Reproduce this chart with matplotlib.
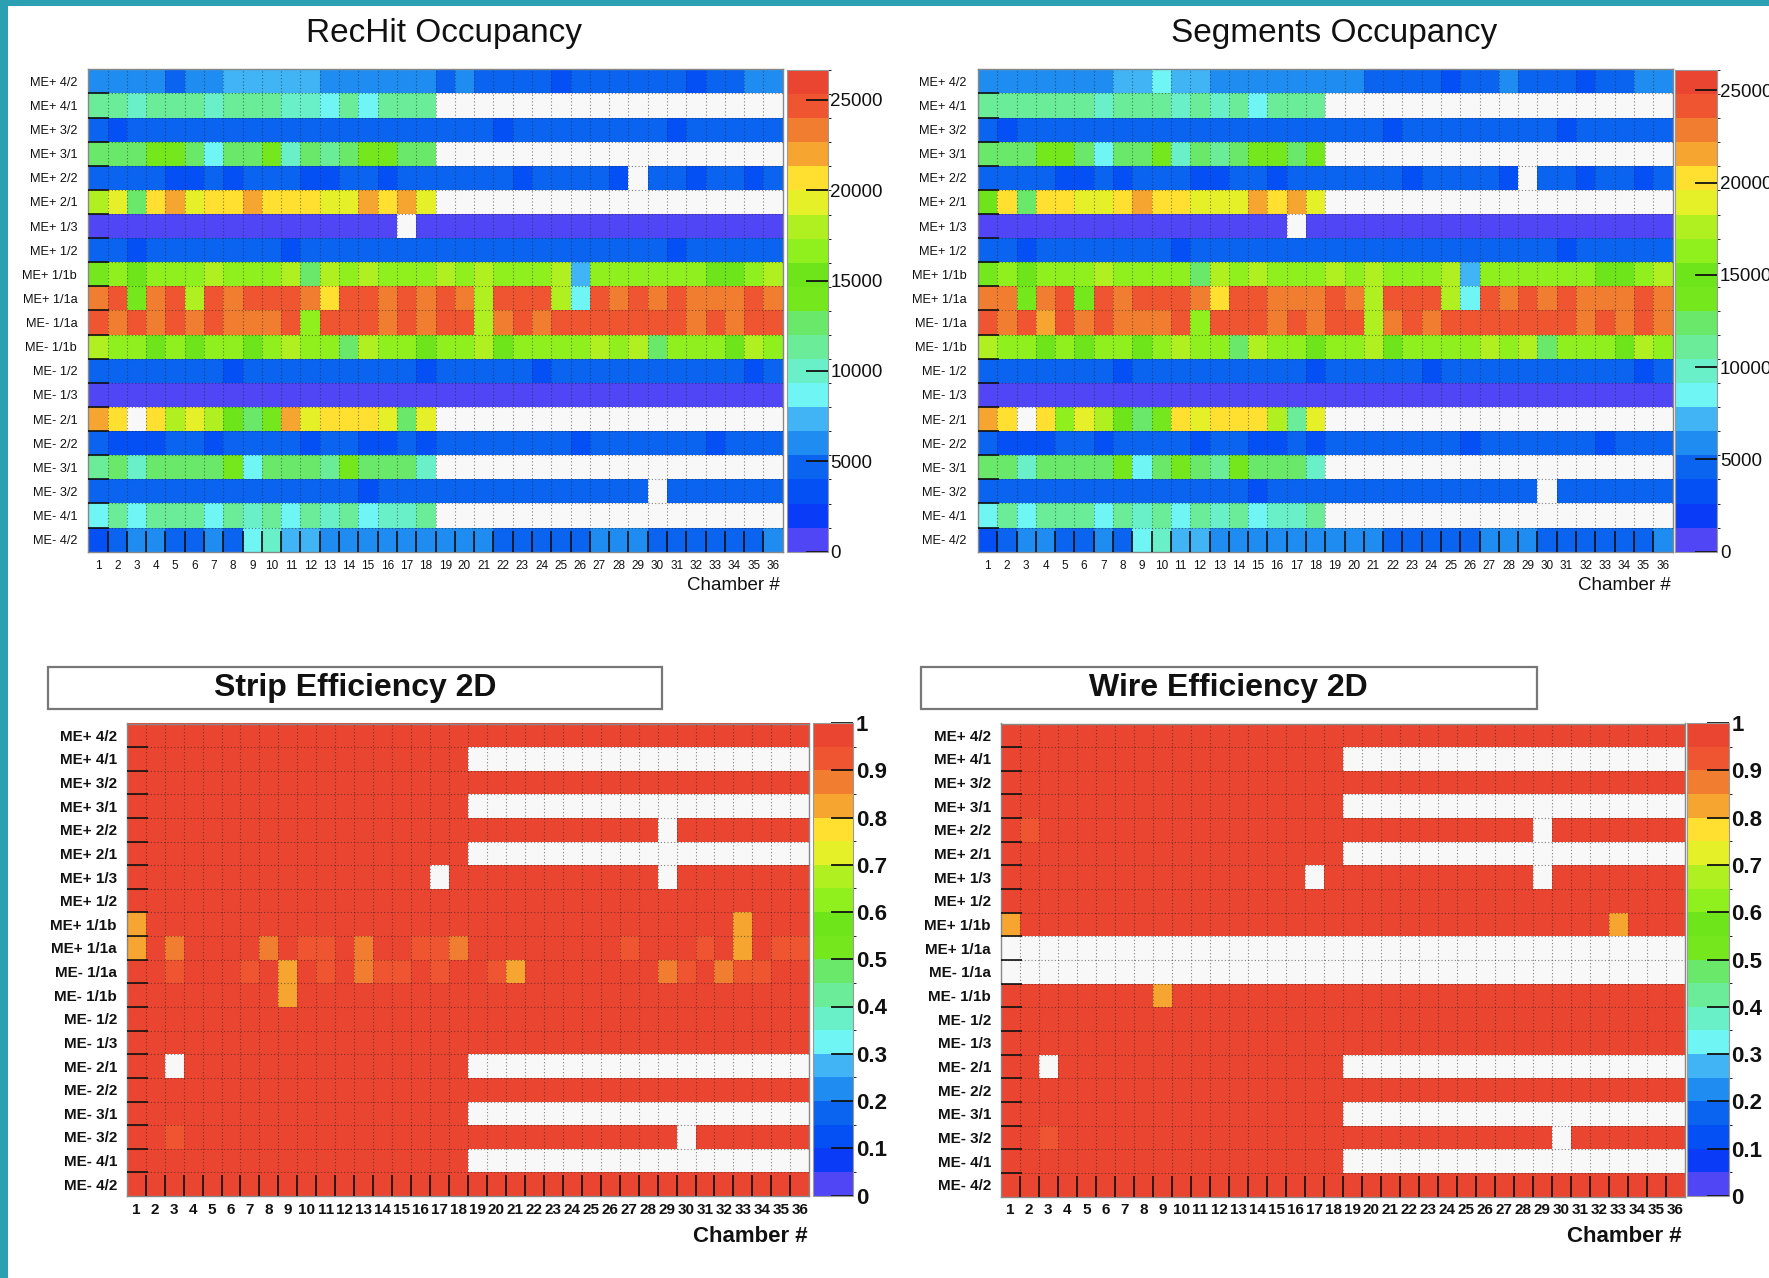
import numpy as np
import matplotlib
matplotlib.use("Agg")
import matplotlib.pyplot as plt
from matplotlib.colors import ListedColormap, BoundaryNorm
from matplotlib.patches import Rectangle

plt.rcParams['font.family'] = ['Liberation Sans', 'DejaVu Sans']

# ---- data ----
# each cell is written as the colour level it shows (0..j = 20 palette steps), '.' = empty bin
CHAMBERS = list(range(1, 37))
ROW_LABELS = ["ME+ 4/2", "ME+ 4/1", "ME+ 3/2", "ME+ 3/1", "ME+ 2/2", "ME+ 2/1",
              "ME+ 1/3", "ME+ 1/2", "ME+ 1/1b", "ME+ 1/1a", "ME- 1/1a", "ME- 1/1b",
              "ME- 1/2", "ME- 1/3", "ME- 2/1", "ME- 2/2", "ME- 3/1", "ME- 3/2",
              "ME- 4/1", "ME- 4/2"]
LEVELS = "0123456789abcdefghij"

RECHIT_MAX = 26650
RECHIT_ROWS = [
    "444434455555444444" "343333233333323344",
    "887888788877686888" "..................",
    "323333333333333333" "333233333333233333",
    "999aa9699a7989aa99" "..................",
    "333322323332233233" "3333233332.3323323",
    "de9fgeffgfffeegfge" "..................",
    "0000000000000000.0" "000000000000000000",
    "332333333323333333" "333333333333233333",
    "acbcccdcccd9dcdccc" "dcdcccd5ccccccbbcd",
    "hiahidihiiihfiihih" "ihdiiid6ihihihhhih",
    "ihihihihhhiciiihih" "iidhihiiiiiiihihii",
    "dccbcbccbcdcc9dccb" "ccdbccccdcd9cccbdc",
    "333333323333333332" "333332333333333323",
    "000000000000000000" "000000000000000000",
    "gf.fdedb9agefffe9e" "..................",
    "322233233332332232" "333333323333332333",
    "8979999a69998a9997" "..................",
    "333333333333332333" "33333333333.333333",
    "686888687868786778" "..................",
    "234433436755444444" "444333334443333334",
]

SEGMENT_MAX = 26100
SEGMENT_ROWS = [
    "444444455655444444" "443333233433323344",
    "888888788878786888" "..................",
    "323333333333333333" "333233333333233333",
    "999aa9699a7989aa9a" "..................",
    "333322323332233233" "3333233332.3323323",
    "bf9ffeefgffeeegfge" "..................",
    "0000000000000000.0" "000000000000000000",
    "332333333323333333" "333333333333233333",
    "acbcccdcccc9dcdccc" "dcdcccd5ccccccbbcd",
    "hhahiaihiiihfiihhh" "ihdiiid6ihihihhhih",
    "ihigihihhhiciiihih" "iidhihiiiiiiihihih",
    "dccbcbccbcdcc9dccb" "ccdbccccdcd9cccbdc",
    "333333323333333332" "333332333333333323",
    "000000000000000000" "000000000000000000",
    "gf.fcedb9afefffd8e" "..................",
    "322233233332332232" "333333323333332333",
    "9979999a69a98a9997" "..................",
    "333333333333332333" "33333333333.333333",
    "686888687868786778" "..................",
    "234433436755444444" "444333334443333334",
]

EFF_MAX = 1.0
STRIP_ROWS = [
    "j" * 36,
    "j" * 18 + "." * 18,
    "j" * 36,
    "j" * 18 + "." * 18,
    "j" * 28 + "." + "j" * 7,
    "j" * 18 + "." * 18,
    "j" * 16 + "." + "j" * 11 + "." + "j" * 7,
    "j" * 36,
    "g" + "j" * 31 + "g" + "j" * 3,
    "gjhjjjjhjiijhjjiih" "jjjjjjjjijjjijgjii",
    "jjijjjijgjijhiijij" "jigjjjjjjjhijhiijj",
    "j" * 8 + "g" + "j" * 27,
    "j" * 36,
    "j" * 36,
    "jj." + "j" * 15 + "." * 18,
    "j" * 36,
    "j" * 18 + "." * 18,
    "jji" + "j" * 26 + "." + "j" * 6,
    "j" * 18 + "." * 18,
    "j" * 36,
]
WIRE_ROWS = [
    "j" * 36,
    "j" * 18 + "." * 18,
    "j" * 36,
    "j" * 18 + "." * 18,
    "ji" + "j" * 26 + "." + "j" * 7,
    "j" * 18 + "." * 18,
    "j" * 16 + "." + "j" * 11 + "." + "j" * 7,
    "j" * 36,
    "g" + "j" * 31 + "g" + "j" * 3,
    "." * 36,
    "." * 36,
    "j" * 8 + "g" + "j" * 27,
    "j" * 36,
    "j" * 36,
    "jj." + "j" * 15 + "." * 18,
    "j" * 36,
    "j" * 18 + "." * 18,
    "jji" + "j" * 26 + "." + "j" * 6,
    "j" * 18 + "." * 18,
    "j" * 36,
]

OCC_TICKS = [0, 5000, 10000, 15000, 20000, 25000]
EFF_TICKS = [0, 0.1, 0.2, 0.3, 0.4, 0.5, 0.6, 0.7, 0.8, 0.9, 1.0]
EFF_TICK_LABELS = ["0", "0.1", "0.2", "0.3", "0.4", "0.5", "0.6", "0.7", "0.8", "0.9", "1"]

# ROOT-like 20 step rainbow palette, low -> high
PALETTE = ['#5046F5', '#0A3CF8', '#0550F5', '#0A64F0', '#1E8CF0', '#40B4F5',
           '#70F5F5', '#6AF0C8', '#6AEC98', '#6AE86A', '#74E81C', '#6EE41A',
           '#90F01E', '#B0F020', '#E6F028', '#FFE030', '#F5A530', '#F07D30',
           '#EE5530', '#EA4530']

W, H = 1769, 1278
fig = plt.figure(figsize=(W / 100, H / 100), dpi=100)
fig.patch.set_facecolor('white')


def px_axes(x0, y0, x1, y1):
    return fig.add_axes([x0 / W, 1 - y1 / H, (x1 - x0) / W, (y1 - y0) / H])


def decode(rows, zmax):
    vals = np.full((len(rows), len(rows[0])), np.nan)
    for i, row in enumerate(rows):
        for j, ch in enumerate(row):
            if ch != ".":
                vals[i, j] = (LEVELS.index(ch) + 0.5) * zmax / 20
    return np.ma.masked_invalid(vals)


cmap = ListedColormap(PALETTE)


def panel(rows, zmax, ax_px, cb_px, cticks, clabels, bold, lab_fs, xt_fs, cb_fs, ypad, xpad):
    weight = 'bold' if bold else 'normal'
    ax = px_axes(*ax_px)
    norm = BoundaryNorm(np.linspace(0, zmax, 21), 20)
    mesh = ax.pcolormesh(np.arange(0.5, 37, 1), np.arange(-0.5, 20, 1), decode(rows, zmax),
                         cmap=cmap, norm=norm)
    ax.set_xlim(0.5, 36.5)
    ax.set_ylim(19.5, -0.5)
    ax.set_facecolor('#f8f8f8')
    ax.set_axisbelow(False)

    # bin boundaries carry the tick marks and the dotted grid, bin centres carry the labels
    ax.set_xticks(np.arange(1.5, 36, 1), labels=[])
    ax.set_xticks(CHAMBERS, labels=[str(c) for c in CHAMBERS], minor=True)
    ax.set_yticks(np.arange(0.5, 19, 1), labels=[])
    ax.set_yticks(range(20), labels=ROW_LABELS, minor=True)
    ax.tick_params(which='major', direction='in', length=15, width=1.2, color='#111')
    ax.tick_params(which='minor', length=0)
    ax.tick_params(axis='x', which='minor', labelsize=xt_fs, pad=xpad, labelcolor='#111')
    ax.tick_params(axis='y', which='minor', labelsize=lab_fs, pad=ypad, labelcolor='#111')
    for t in ax.get_xticklabels(minor=True) + ax.get_yticklabels(minor=True):
        t.set_fontweight(weight)
    ax.grid(which='major', color='#222', ls=(0, (1, 2)), lw=0.8, alpha=0.55)
    for sp in ax.spines.values():
        sp.set_color('#888')
        sp.set_linewidth(1)

    cax = px_axes(*cb_px)
    cb = fig.colorbar(mesh, cax=cax, ticks=cticks)
    cb.ax.set_yticklabels(clabels, fontsize=cb_fs, fontweight=weight, color='#111')
    cb.ax.tick_params(direction='in', length=16, width=1.3, pad=2, color='#111')
    cb.outline.set_edgecolor('#999')
    cb.outline.set_linewidth(0.8)
    return ax


occ_labels = [str(t) for t in OCC_TICKS]
panel(RECHIT_ROWS, RECHIT_MAX, (88.3, 69.3, 782.7, 551.7), (786.7, 70, 827.7, 551.7),
      OCC_TICKS, occ_labels, False, 9.2, 8.5, 13.5, 8, 6)
panel(SEGMENT_ROWS, SEGMENT_MAX, (978, 69.3, 1672.5, 551.7), (1675, 70, 1717, 551.7),
      OCC_TICKS, occ_labels, False, 9.2, 8.5, 13.5, 8, 6)
panel(STRIP_ROWS, EFF_MAX, (126.7, 723.5, 809.3, 1196), (812.7, 723, 853.3, 1195.5),
      EFF_TICKS, EFF_TICK_LABELS, True, 11, 11, 16, 7, 5)
panel(WIRE_ROWS, EFF_MAX, (1000.7, 723.5, 1685, 1196.5), (1686.7, 723, 1728.6, 1196),
      EFF_TICKS, EFF_TICK_LABELS, True, 11, 11, 16, 7, 5)

# titles
fig.text(444 / W, 1 - 33.6 / H, "RecHit Occupancy", ha='center', va='center', fontsize=24, color='#111')
fig.text(1334 / W, 1 - 33.6 / H, "Segments Occupancy", ha='center', va='center', fontsize=24, color='#111')
for x0, x1, label in [(47.7, 662, "Strip Efficiency 2D"), (921, 1536.5, "Wire Efficiency 2D")]:
    fig.patches.append(Rectangle((x0 / W, 1 - 709 / H), (x1 - x0) / W, 42 / H,
                                 transform=fig.transFigure, facecolor='white',
                                 edgecolor='#777', linewidth=1.6))
    fig.text((x0 + x1) / 2 / W, 1 - 688 / H, label, ha='center', va='center',
             fontsize=23, fontweight='bold', color='#111')

# axis titles
fig.text(780 / W, 1 - 586 / H, "Chamber #", ha='right', va='center', fontsize=13.5, color='#111')
fig.text(1671 / W, 1 - 586 / H, "Chamber #", ha='right', va='center', fontsize=13.5, color='#111')
fig.text(808 / W, 1 - 1236 / H, "Chamber #", ha='right', va='center', fontsize=16,
         fontweight='bold', color='#111')
fig.text(1682 / W, 1 - 1236 / H, "Chamber #", ha='right', va='center', fontsize=16,
         fontweight='bold', color='#111')

# teal screenshot border
teal = '#2BA0B2'
fig.patches.append(Rectangle((0, 0), 8 / W, 1, transform=fig.transFigure, facecolor=teal, edgecolor='none'))
fig.patches.append(Rectangle((0, 1 - 6 / H), 1, 6 / H, transform=fig.transFigure, facecolor=teal, edgecolor='none'))

fig.savefig("out.png", dpi=100)
